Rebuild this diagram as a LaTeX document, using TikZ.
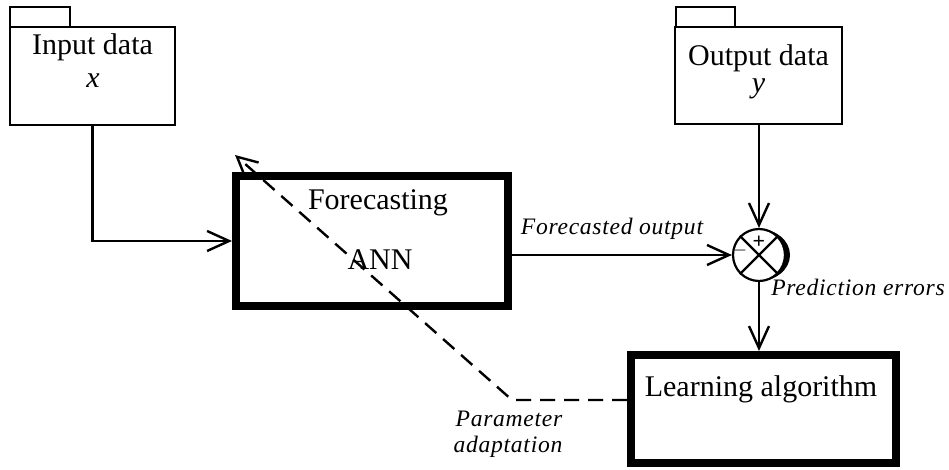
\documentclass[tikz,border=0pt]{standalone}
\usepackage{fontspec}
\setmainfont{Liberation Serif}
\newfontfamily\lblfont[LetterSpace=3]{Liberation Serif}
\usetikzlibrary{arrows.meta,calc}
\begin{document}
\begin{tikzpicture}[x=0.5pt,y=-0.5pt,
  pkgbox/.style={draw,line width=1pt,inner sep=0pt},
  thickbox/.style={draw,line width=4pt,inner sep=0pt},
  maintxt/.style={font=\fontsize{15}{18}\selectfont,inner sep=0pt,anchor=base},
  lbltxt/.style={font=\lblfont\itshape\fontsize{11.8}{14}\selectfont,inner sep=0pt,anchor=base},
  conn/.style={line width=1.2pt,-{Straight Barb[length=11pt,width=10pt,line width=1.2pt]}},
  dashconn/.style={line width=1.2pt,dash pattern=on 7.5pt off 4.5pt,-{Straight Barb[length=10pt,width=10pt,line width=1.2pt]}}
]
\useasboundingbox (0,0) rectangle (949,470);
% input package
\draw[line width=1pt] (10,7) rectangle (70,27);
\node[pkgbox,minimum width=82.5pt,minimum height=49pt] (inbody) at (92.5,76) {};
\node[maintxt] (intxt) at (92.5,55) {Input data};
\node[maintxt] (invar) at (93,88) {\textit{x}};
% output package
\draw[line width=1pt] (676,7) rectangle (735,27);
\node[pkgbox,minimum width=83.5pt,minimum height=48.5pt] (outbody) at (758.5,75.5) {};
\node[maintxt] (outtxt) at (758.5,66) {Output data};
\node[maintxt] (outvar) at (758.5,93) {\textit{y}};
% forecasting box
\node[thickbox,minimum width=136pt,minimum height=65pt] (fc) at (372,241) {};
\node[maintxt] (fctxt) at (378,210) {Forecasting};
\node[maintxt] (anntxt) at (380,270) {ANN};
% learning box
\node[thickbox,minimum width=132.5pt,minimum height=54pt] (la) at (763.5,409) {};
\node[maintxt] (latxt) at (761,397) {Learning algorithm};
% summing junction
\node[draw,circle,line width=1.1pt,minimum size=26pt,inner sep=0pt] (sum) at (759,255) {};
\draw[line width=1.1pt] (sum.north west) -- (sum.south east) (sum.north east) -- (sum.south west);
\begin{scope}
  \clip ($(sum.center)+(0,-40)$) rectangle ($(sum.center)+(40,40)$);
  \fill[even odd rule] (sum.center) ellipse[x radius=31,y radius=26] (sum.center) circle[radius=26];
\end{scope}
\node[font=\bfseries\fontsize{11}{11}\selectfont,inner sep=0pt] (plus) at (759,242) {+};
\node[font=\fontsize{12}{12}\selectfont,inner sep=0pt,text=black!65] (minus) at (740,254) {\char"2212};
% connectors
\draw[conn] (inbody.south) |- (fc.west);
\draw[conn] (fc.east |- sum.west) -- (sum.west);
\draw[conn] (outbody.south -| sum) -- (sum.north);
\draw[conn] (sum.south) -- (la.north -| sum);
\coordinate (bend) at (512,400);
\coordinate (tip) at (235,155);
\draw[dashconn] (la.west |- bend) -- (bend) -- (tip);
% labels
\node[lbltxt] (fcout) at (612,235) {Forecasted output};
\node[lbltxt] (prederr) at (858,296) {Prediction errors};
\node[lbltxt] (param) at (509,427) {Parameter};
\node[lbltxt] (adapt) at (508,452) {adaptation};
\end{tikzpicture}
\end{document}
